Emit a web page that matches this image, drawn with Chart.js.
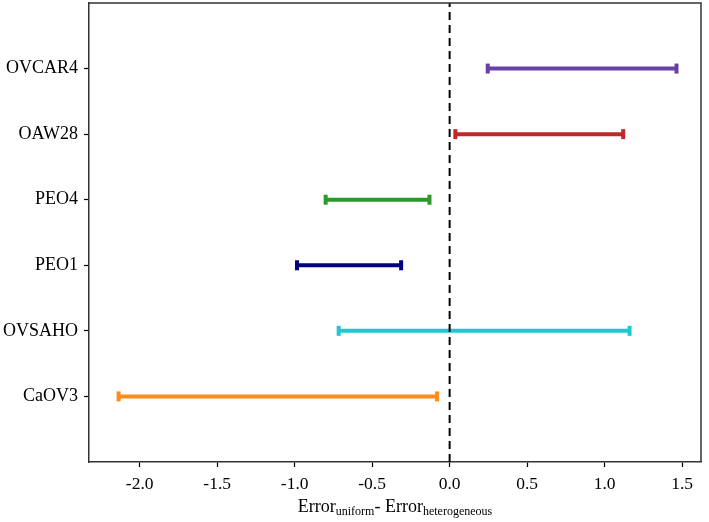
<!DOCTYPE html>
<html>
<head>
<meta charset="utf-8">
<script src="https://cdn.jsdelivr.net/npm/chart.js@4"></script>
<style>
  body { margin: 0; background: #fff; }
  #wrap { width: 709px; height: 522px; }
</style>
</head>
<body>
<div id="wrap"><canvas id="myChart" width="709" height="522"></canvas></div>
<script>
// data, bottom to top
var cellLines = ['CaOV3', 'OVSAHO', 'PEO1', 'PEO4', 'OAW28', 'OVCAR4'];
var lowValues = [-2.136, -0.716, -0.985, -0.80, 0.037, 0.246];
var highValues = [-0.081, 1.161, -0.313, -0.130, 1.12, 1.464];
var lineColors = ['#ff8c1a', '#1ec8cf', '#000080', '#2a9a2a', '#c0282d', '#6a3fa8'];
var xTicks = [-2.0, -1.5, -1.0, -0.5, 0.0, 0.5, 1.0, 1.5];

var serif = "'Liberation Serif', 'DejaVu Serif', serif";

var datasets = [];

// dashed zero line, drawn on top
datasets.push({
    data: [{x: 0, y: 0}, {x: 0, y: cellLines.length + 1}],
    borderColor: '#000',
    borderWidth: 2,
    borderDash: [8, 5],
    pointRadius: 0,
    order: 0
});

cellLines.forEach(function (name, i) {
    datasets.push({
        label: name,
        data: [{x: lowValues[i], y: i + 1}, {x: highValues[i], y: i + 1}],
        borderColor: lineColors[i],
        backgroundColor: lineColors[i],
        borderWidth: 4,
        pointStyle: 'line',
        rotation: 90,
        pointRadius: 5,
        pointBorderWidth: 4,
        pointBorderColor: lineColors[i],
        order: 1
    });
});

// box around plot + axis title with subscripts
var framePlugin = {
    id: 'frame',
    afterDraw: function (chart) {
        var ctx = chart.ctx;
        var a = chart.chartArea;
        ctx.save();
        ctx.strokeStyle = '#333';
        ctx.lineWidth = 1.5;
        ctx.beginPath();
        ctx.moveTo(a.left, a.top);
        ctx.lineTo(a.right, a.top);
        ctx.lineTo(a.right, a.bottom);
        ctx.stroke();

        var parts = [
            ['Error', 18, 0],
            ['uniform', 12, 3],
            ['- Error', 18, 0],
            ['heterogeneous', 12, 3]
        ];
        var total = 0;
        parts.forEach(function (p) {
            ctx.font = p[1] + 'px ' + serif;
            total += ctx.measureText(p[0]).width;
        });
        var x = (a.left + a.right) / 2 - total / 2;
        var base = 512;
        ctx.fillStyle = '#000';
        ctx.textBaseline = 'alphabetic';
        parts.forEach(function (p) {
            ctx.font = p[1] + 'px ' + serif;
            ctx.fillText(p[0], x, base + p[2]);
            x += ctx.measureText(p[0]).width;
        });
        ctx.restore();
    }
};

var config = {
    type: 'line',
    data: {datasets: datasets},
    options: {
        responsive: false,
        animation: false,
        layout: {autoPadding: false, padding: {top: 3, right: 8, left: 0, bottom: 0}},
        plugins: {legend: {display: false}, tooltip: {enabled: false}},
        scales: {
            x: {
                type: 'linear',
                min: -2.327,
                max: 1.622,
                afterBuildTicks: function (scale) {
                    scale.ticks = xTicks.map(function (v) { return {value: v}; });
                },
                afterFit: function (scale) {
                    scale.height = 60;
                    scale.paddingLeft = 0;
                    scale.paddingRight = 0;
                },
                grid: {drawOnChartArea: false, drawTicks: true, tickLength: 5, tickColor: '#000', tickWidth: 1.2},
                border: {display: true, color: '#333', width: 1.5},
                ticks: {
                    color: '#000',
                    padding: 7,
                    maxRotation: 0,
                    font: {family: serif, size: 17.5},
                    callback: function (v) { return Number(v).toFixed(1); }
                }
            },
            y: {
                type: 'linear',
                min: 0,
                max: cellLines.length + 1,
                afterBuildTicks: function (scale) {
                    scale.ticks = cellLines.map(function (n, i) { return {value: i + 1}; });
                },
                afterFit: function (scale) {
                    scale.width = 89;
                    scale.paddingTop = 0;
                    scale.paddingBottom = 0;
                },
                grid: {drawOnChartArea: false, drawTicks: true, tickLength: 5, tickColor: '#000', tickWidth: 1.2},
                border: {display: true, color: '#333', width: 1.5},
                ticks: {
                    color: '#000',
                    padding: 6,
                    font: {family: serif, size: 18},
                    callback: function (v) { return cellLines[v - 1] || ''; }
                }
            }
        }
    },
    plugins: [framePlugin]
};

var myChart = new Chart(document.getElementById('myChart'), config);
</script>
</body>
</html>
